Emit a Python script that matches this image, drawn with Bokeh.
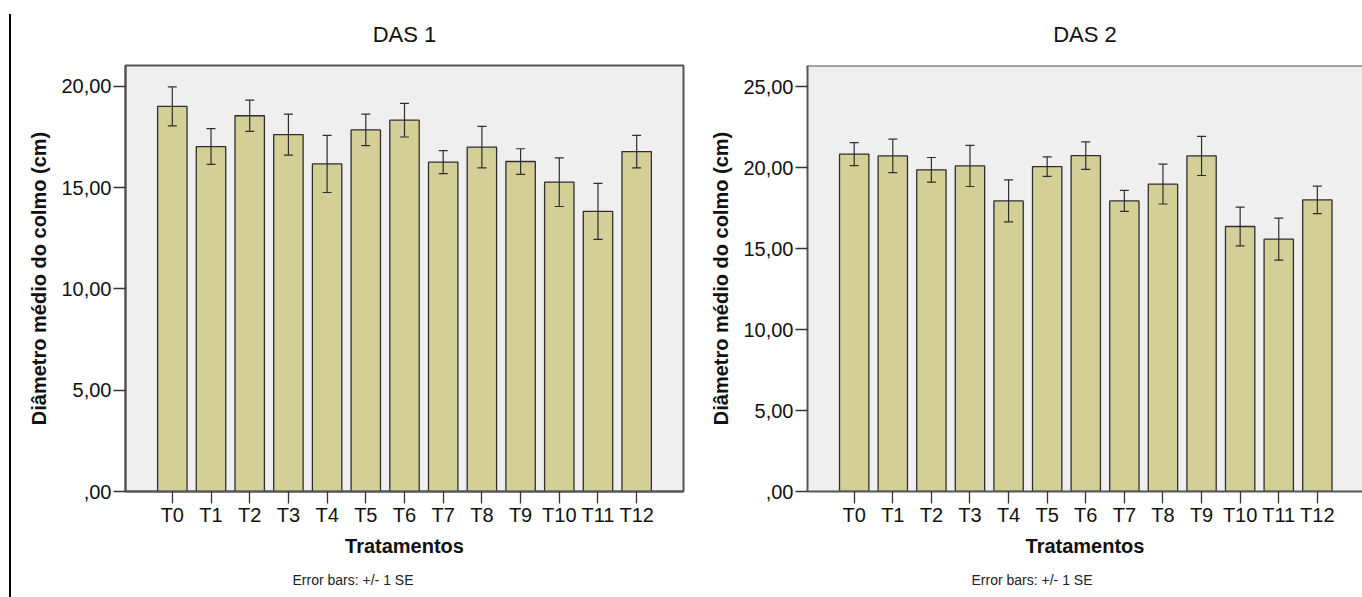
from bokeh.plotting import figure
from bokeh.layouts import row
from bokeh.models import (ColumnDataSource, Range1d, FixedTicker, Whisker, TeeHead,
                          Title, Span, Div)
from bokeh.embed import file_html
from bokeh.resources import INLINE

# ---- data ----
treatments = ["T0", "T1", "T2", "T3", "T4", "T5", "T6", "T7", "T8", "T9", "T10", "T11", "T12"]
das1_mean = [19.01, 17.03, 18.55, 17.62, 16.17, 17.85, 18.33, 16.26, 17.00, 16.29, 15.27, 13.83, 16.78]
das1_se = [0.96, 0.88, 0.77, 1.01, 1.41, 0.78, 0.83, 0.57, 1.02, 0.63, 1.20, 1.38, 0.80]
das2_mean = [20.83, 20.72, 19.86, 20.10, 17.94, 20.06, 20.74, 17.94, 18.98, 20.72, 16.36, 15.58, 18.00]
das2_se = [0.71, 1.03, 0.76, 1.27, 1.30, 0.60, 0.85, 0.65, 1.23, 1.21, 1.20, 1.30, 0.85]
das1_yticks = [0, 5, 10, 15, 20]
das1_ylabels = [",00", "5,00", "10,00", "15,00", "20,00"]
das2_yticks = [0, 5, 10, 15, 20, 25]
das2_ylabels = [",00", "5,00", "10,00", "15,00", "20,00", "25,00"]

FONT = "Liberation Sans"
BAR = "#d3cf96"
BG = "#efefef"
FRAME = "#555555"
DARK = "#2e2e2e"


def make_panel(title, means, ses, yticks, ylabels, ymax, width, x_end,
               mbl, mbr, right_open, foot_offset):
    xs = list(range(len(treatments)))
    src = ColumnDataSource(dict(
        x=xs, top=means,
        upper=[m + s for m, s in zip(means, ses)],
        lower=[m - s for m, s in zip(means, ses)],
    ))
    p = figure(width=width, height=597, output_backend="svg", toolbar_location=None,
               x_range=Range1d(-1.21, x_end), y_range=Range1d(0, ymax),
               min_border_left=mbl, min_border_right=mbr, min_border_top=65,
               min_border_bottom=105)
    p.title.text = title
    p.title.align = "center"
    p.title.text_font = FONT
    p.title.text_font_size = "22px"
    p.title.text_font_style = "normal"
    p.title.text_color = "#111111"
    p.title.standoff = 38
    p.background_fill_color = BG
    p.border_fill_color = "white"
    p.grid.visible = False
    if right_open:
        p.outline_line_color = None
        p.add_layout(Span(location=ymax, dimension="width", line_color=FRAME,
                          line_width=2))
    else:
        p.outline_line_color = FRAME
        p.outline_line_width = 2

    p.vbar(x="x", top="top", bottom=0, width=0.76, source=src,
           fill_color=BAR, line_color=DARK, line_width=1.3)
    p.add_layout(Whisker(source=src, base="x", upper="upper", lower="lower",
                         level="overlay", line_color=DARK, line_width=1.2,
                         upper_head=TeeHead(size=9, line_color=DARK, line_width=1.2),
                         lower_head=TeeHead(size=9, line_color=DARK, line_width=1.2)))

    xa = p.xaxis[0]
    xa.ticker = FixedTicker(ticks=xs)
    xa.major_label_overrides = {i: t for i, t in enumerate(treatments)}
    xa.axis_label = "Tratamentos"
    ya = p.yaxis[0]
    ya.ticker = FixedTicker(ticks=yticks)
    ya.major_label_overrides = {t: l for t, l in zip(yticks, ylabels)}
    ya.axis_label = "Diâmetro médio do colmo (cm)"
    for ax in (xa, ya):
        ax.axis_line_color = FRAME
        ax.axis_line_width = 2
        ax.major_tick_line_color = "#333333"
        ax.major_tick_line_width = 1.3
        ax.major_tick_in = 0
        ax.major_tick_out = 12
        ax.minor_tick_line_color = None
        ax.major_label_text_font = FONT
        ax.major_label_text_font_size = "20px"
        ax.major_label_text_color = "#111111"
        ax.axis_label_text_font = FONT
        ax.axis_label_text_font_size = "20px"
        ax.axis_label_text_font_style = "bold"
        ax.axis_label_text_color = "#111111"
    xa.major_label_standoff = 0
    ya.major_label_standoff = 2
    xa.axis_label_standoff = 6
    ya.axis_label_standoff = 8

    p.add_layout(Title(text="Error bars: +/- 1 SE", align="left", offset=foot_offset,
                       text_font=FONT, text_font_size="14px", text_font_style="normal",
                       text_color="#222222", standoff=20), "below")
    return p


p1 = make_panel("DAS 1", das1_mean, das1_se, das1_yticks, das1_ylabels, 21.03,
                678, 13.21, 113, 7, False, 167)
p2 = make_panel("DAS 2", das2_mean, das2_se, das2_yticks, das2_ylabels, 26.3,
                672, 13.17, 117, 0, True, 164)

edge = Div(text="", width=2, height=583, margin=(14, 1, 0, 9),
           styles={"background-color": "black"})

layout = row(edge, p1, p2)
open("out.html", "w").write(file_html(layout, INLINE))
